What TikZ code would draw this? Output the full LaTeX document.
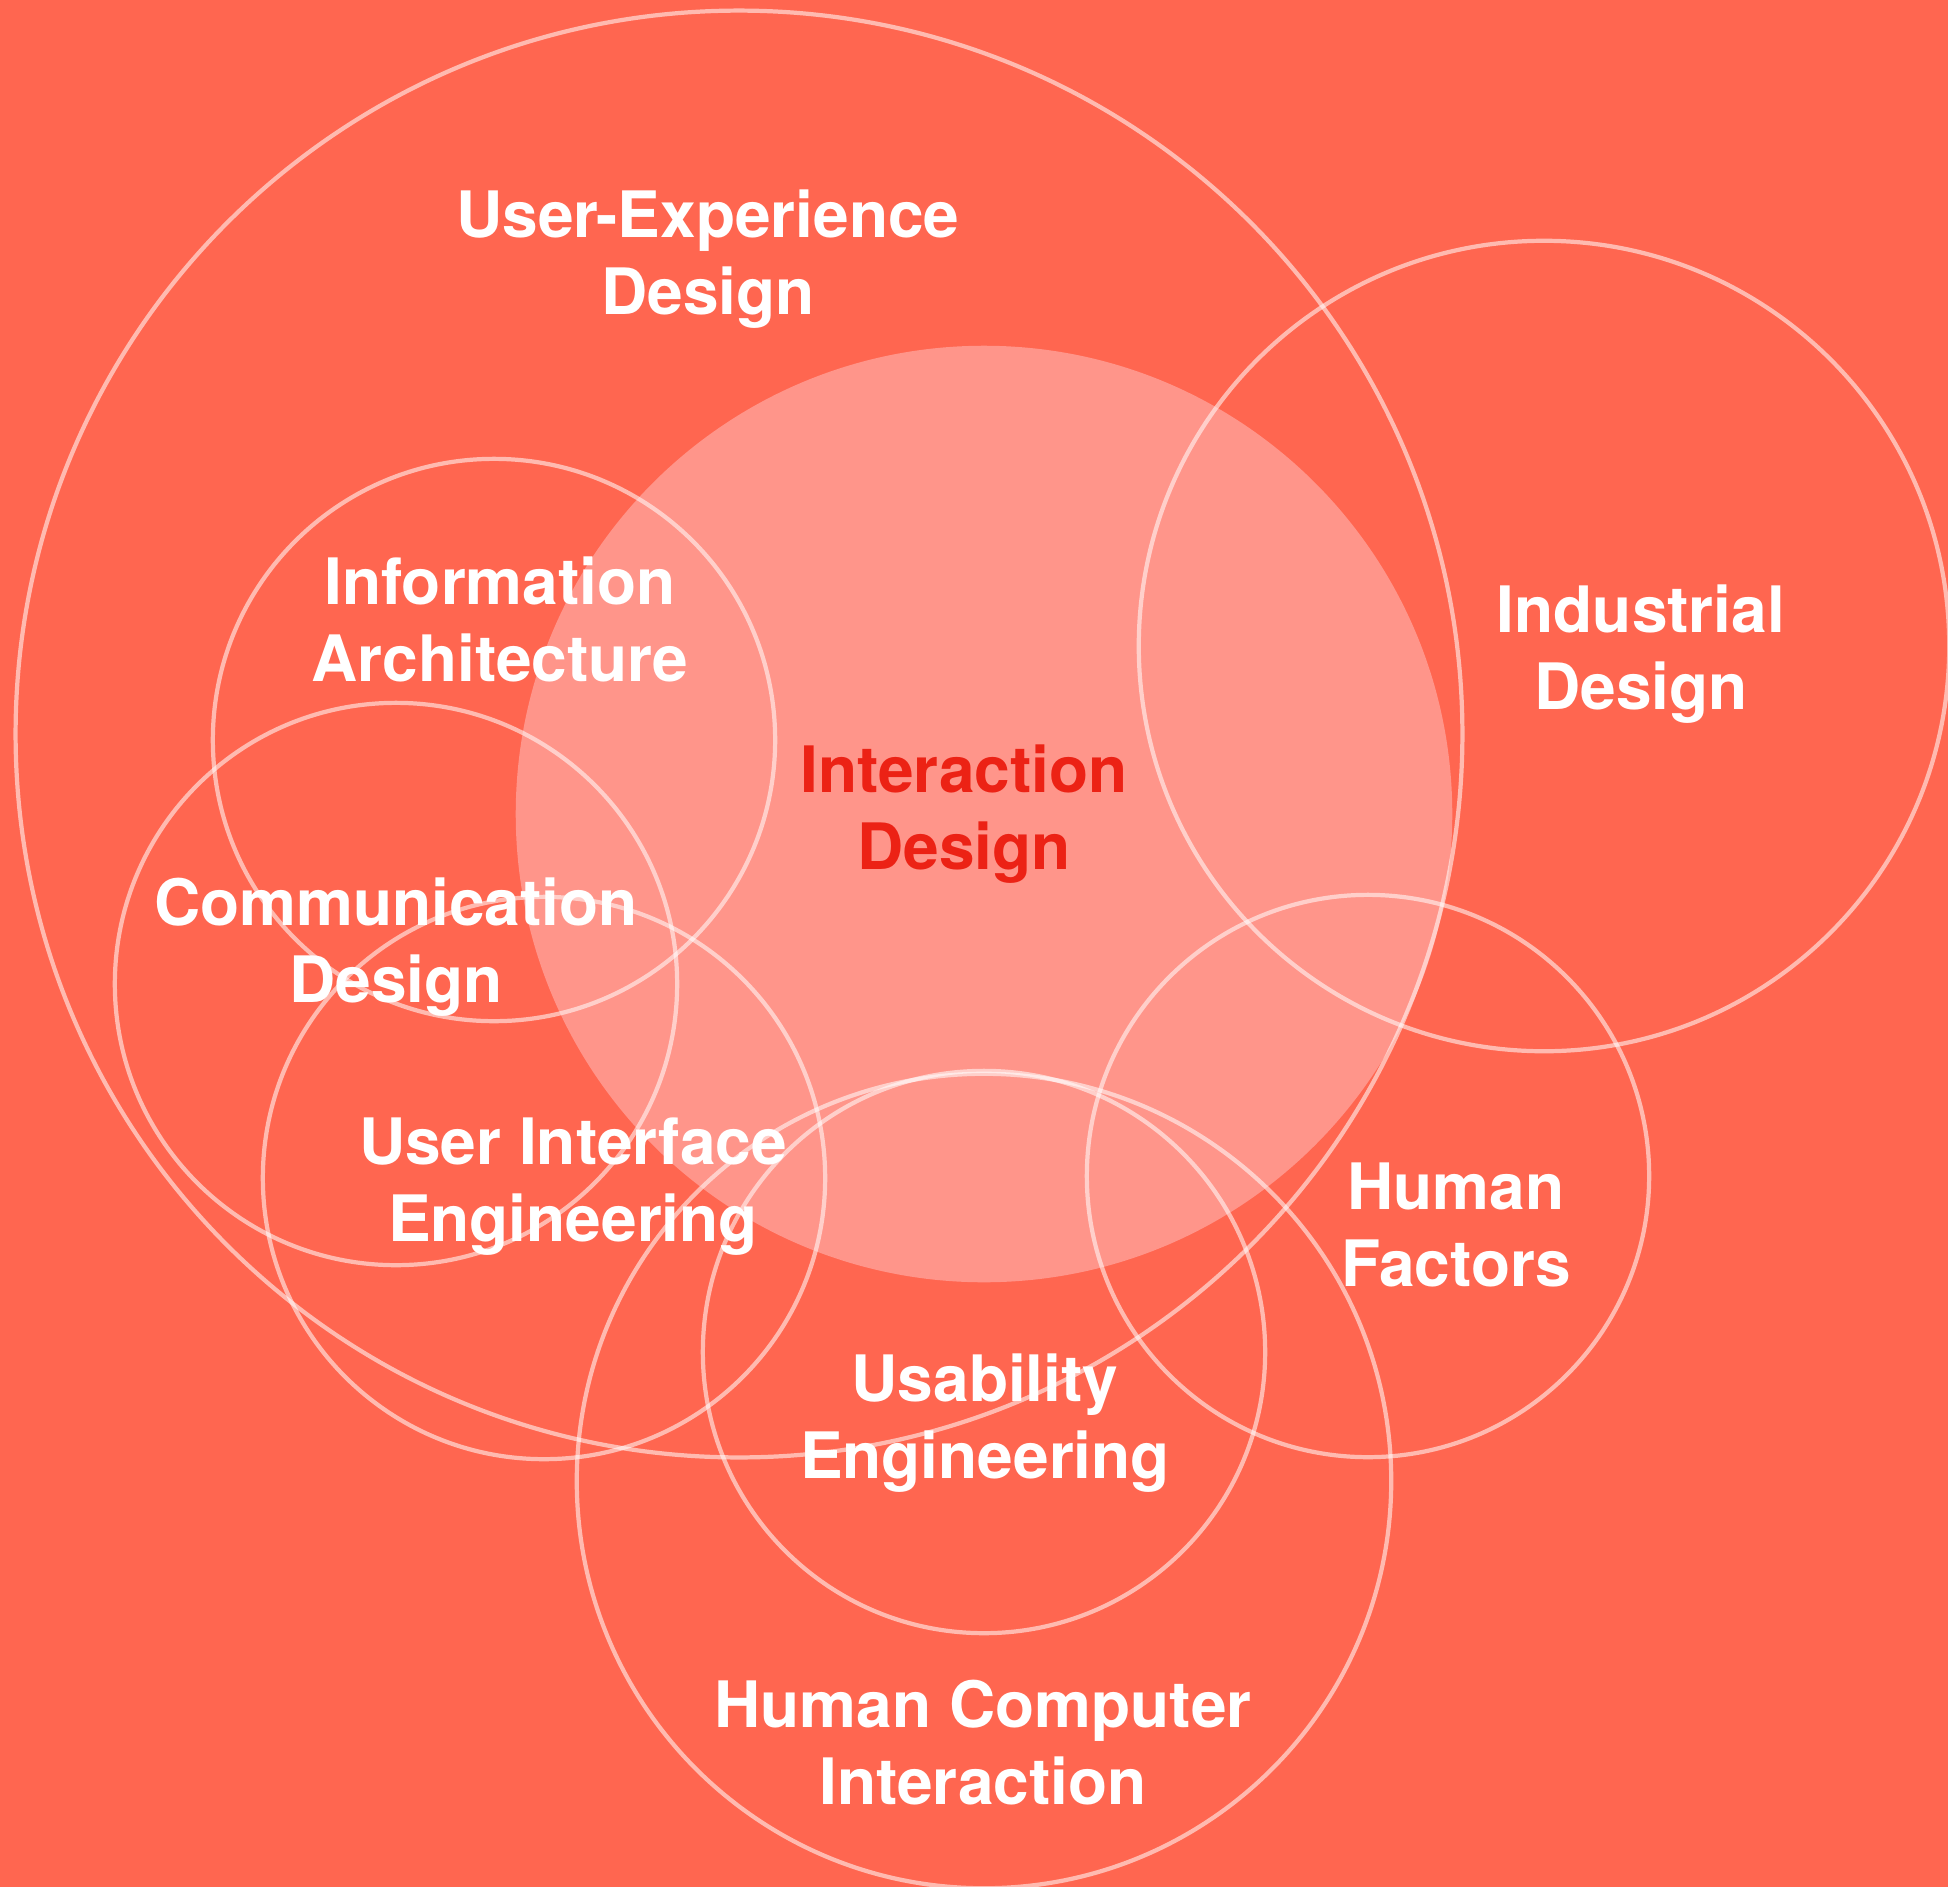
\documentclass[tikz,border=0pt]{standalone}
\usepackage{fontspec}
\setmainfont{TeX Gyre Heros}
\definecolor{bgred}{HTML}{FF6650}
\definecolor{ixfill}{HTML}{FF958A}
\definecolor{ixtext}{HTML}{EC2215}
\tikzstyle{field}=[draw=white, draw opacity=0.55, line width=1.2pt]
\tikzstyle{label}=[align=center, text=white, font=\bfseries\fontsize{18.2}{21.9}\selectfont]

\begin{document}
\begin{tikzpicture}[x=0.01cm, y=-0.01cm]
  \useasboundingbox (0, 0) rectangle (1948, 1887);
  \fill[bgred] (0, 0) rectangle (1948, 1887);
  \fill[ixfill] (984, 814) circle[radius=4.68cm];

  \draw[field] (739, 734) circle[radius=7.23cm];
  \draw[field] (1544, 646) circle[radius=4.05cm];
  \draw[field] (494, 740) circle[radius=2.81cm];
  \draw[field] (396, 984) circle[radius=2.81cm];
  \draw[field] (544, 1178) circle[radius=2.81cm];
  \draw[field] (984, 1352) circle[radius=2.81cm];
  \draw[field] (984, 1481) circle[radius=4.07cm];
  \draw[field] (1368, 1176) circle[radius=2.81cm];

  \node[label] (ux) at (708, 259) {User-Experience\\Design};
  \node[label] (ia) at (500, 619) {Information\\Architecture};
  \node[label, text=ixtext] (ixd) at (964, 814) {Interaction\\Design};
  \node[label] (ind) at (1641, 654) {Industrial\\Design};
  \node[label] (comm) at (396, 947) {Communication\\Design};
  \node[label] (uie) at (573, 1187) {User Interface\\Engineering};
  \node[label] (hf) at (1456, 1225) {Human\\Factors};
  \node[label] (ue) at (985, 1423) {Usability\\Engineering};
  \node[label] (hci) at (983, 1743) {Human Computer\\Interaction};
\end{tikzpicture}
\end{document}
